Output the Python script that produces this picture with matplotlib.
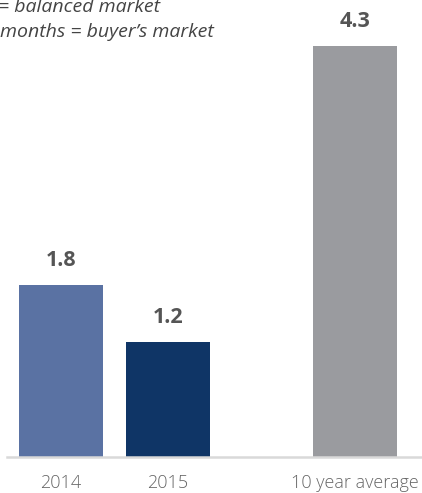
import matplotlib
matplotlib.use("Agg")
import matplotlib.pyplot as plt

categories = ["2014", "2015", "10 year average"]
values = [1.8, 1.2, 4.3]
value_labels = ["1.8", "1.2", "4.3"]
note_lines = ["= balanced market", "months = buyer\u2019s market"]

colors = ["#5a72a3", "#0f3566", "#9a9b9f"]
positions = [0, 1, 2.75]

W, H = 422, 493
fig = plt.figure(figsize=(W / 100, H / 100), dpi=100)
ax = fig.add_axes([7 / W, (H - 457) / H, 1 - 7 / W, 457 / H])

ax.bar(positions, values, width=0.785, color=colors, zorder=2)
ax.set_xlim(-0.505, 3.374)
ax.set_ylim(0, 457 / 95.6)

for p, v, lab in zip(positions, values, value_labels):
    ax.annotate(lab, (p, v), xytext=(0, 10), textcoords="offset points",
                ha="center", va="bottom", fontsize=15.5, fontweight="bold",
                color="#555555", family="Open Sans")

ax.set_xticks(positions)
ax.set_xticklabels(categories, fontsize=13, color="#666666", family="Open Sans",
                   fontweight="light")
ax.tick_params(axis="x", length=0, pad=12)
ax.set_yticks([])
for s in ["top", "left", "right"]:
    ax.spines[s].set_visible(False)
ax.spines["bottom"].set_color("#d9d9d9")
ax.spines["bottom"].set_linewidth(1.8)

fig.text(-2 / W, 1 - 12 / H, note_lines[0], fontsize=14, style="italic",
         color="#444444", family="Open Sans", ha="left", va="baseline")
fig.text(0 / W, 1 - 37 / H, note_lines[1], fontsize=14, style="italic",
         color="#444444", family="Open Sans", ha="left", va="baseline")

fig.savefig("out.png", dpi=100)
